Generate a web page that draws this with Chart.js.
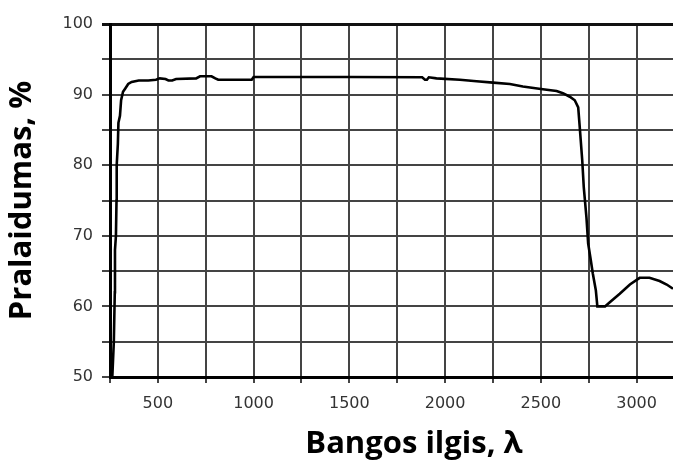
<!DOCTYPE html>
<html>
<head>
<meta charset="utf-8">
<script src="https://cdn.jsdelivr.net/npm/chart.js@4"></script>
<style>
  html, body { margin: 0; padding: 0; background: #fff; }
  #wrap { width: 673px; height: 463px; }
</style>
</head>
<body>
<div id="wrap"><canvas id="spectrum"></canvas></div>
<script>
// bangos ilgis (nm) ir pralaidumas (%)
const wavelength = [262, 270, 275, 276, 281, 284, 285, 291, 294, 302, 308, 318, 328, 345, 363, 400, 450, 490, 510, 540, 555, 575, 595, 700, 720, 780, 800, 815, 990, 1000, 1500, 1880, 1895, 1905, 1915, 1955, 2077, 2164, 2250, 2338, 2406, 2500, 2582, 2615, 2651, 2677, 2695, 2703, 2716, 2724, 2738, 2747, 2761, 2771, 2787, 2795, 2835, 2860, 2912, 2965, 3016, 3067, 3120, 3157, 3190];
const transmission = [50, 55, 62, 68, 70, 75, 80, 83, 86, 87, 89.2, 90.4, 90.8, 91.5, 91.8, 92.0, 92.0, 92.1, 92.3, 92.2, 92.0, 92.0, 92.2, 92.3, 92.6, 92.6, 92.3, 92.1, 92.1, 92.5, 92.5, 92.45, 92.1, 92.1, 92.45, 92.3, 92.1, 91.9, 91.7, 91.5, 91.15, 90.8, 90.5, 90.2, 89.7, 89.2, 88.2, 85.4, 80.7, 76.9, 72.6, 68.9, 66.5, 64.7, 62.3, 60.0, 60.0, 60.6, 61.8, 63.1, 64.05, 64.05, 63.6, 63.1, 62.5];

const xTicks = [250, 500, 750, 1000, 1250, 1500, 1750, 2000, 2250, 2500, 2750, 3000];
const yTicks = [50, 55, 60, 65, 70, 75, 80, 85, 90, 95, 100];

const xTitle = 'Bangos ilgis, λ';
const yTitle = 'Pralaidumas, %';

const titleFont = { family: 'Open Sans', size: 31, weight: 'bold' };
const tickFont = { family: 'DejaVu Sans', size: 16 };

// x ašies pavadinimas piešiamas atskirai
const xTitlePlugin = {
  id: 'xTitle',
  afterDraw(chart) {
    const ctx = chart.ctx;
    ctx.save();
    ctx.font = 'bold 31px "Open Sans"';
    ctx.fillStyle = '#000';
    ctx.textAlign = 'center';
    ctx.textBaseline = 'middle';
    ctx.fillText(xTitle, 414, 444);
    ctx.restore();
  }
};

const points = wavelength.map((w, i) => ({ x: w, y: transmission[i] }));

new Chart(document.getElementById('spectrum'), {
  type: 'line',
  data: {
    datasets: [{
      data: points,
      borderColor: '#000',
      borderWidth: 2.6,
      pointRadius: 0,
      tension: 0
    }]
  },
  plugins: [xTitlePlugin],
  options: {
    responsive: true,
    maintainAspectRatio: false,
    animation: false,
    layout: { padding: { top: 24, right: 0, left: 0, bottom: 0 } },
    plugins: {
      legend: { display: false },
      tooltip: { enabled: false }
    },
    scales: {
      x: {
        type: 'linear',
        min: 250,
        max: 3190,
        afterBuildTicks: scale => { scale.ticks = xTicks.map(v => ({ value: v })); },
        afterFit: scale => { scale.height = 86; },
        ticks: {
          autoSkip: false,
          maxRotation: 0,
          padding: 11,
          color: '#333',
          font: tickFont,
          callback: v => (v % 500 === 0 ? v : '')
        },
        grid: { color: '#444', lineWidth: 2, tickLength: 6 },
        border: { color: '#000', width: 3 }
      },
      y: {
        min: 50,
        max: 100,
        afterBuildTicks: scale => { scale.ticks = yTicks.map(v => ({ value: v })); },
        afterFit: scale => { scale.width = 110; },
        ticks: {
          autoSkip: false,
          padding: 9,
          color: '#333',
          font: tickFont,
          callback: v => (v % 10 === 0 ? v : '')
        },
        grid: {
          color: c => (c.tick && c.tick.value === 100 ? '#111' : '#444'),
          lineWidth: c => (c.tick && c.tick.value === 100 ? 3 : 2),
          tickLength: 8
        },
        border: { color: '#000', width: 3 },
        title: {
          display: true,
          text: yTitle,
          color: '#000',
          font: titleFont,
          padding: { top: 4, bottom: 0 }
        }
      }
    }
  }
});
</script>
</body>
</html>
